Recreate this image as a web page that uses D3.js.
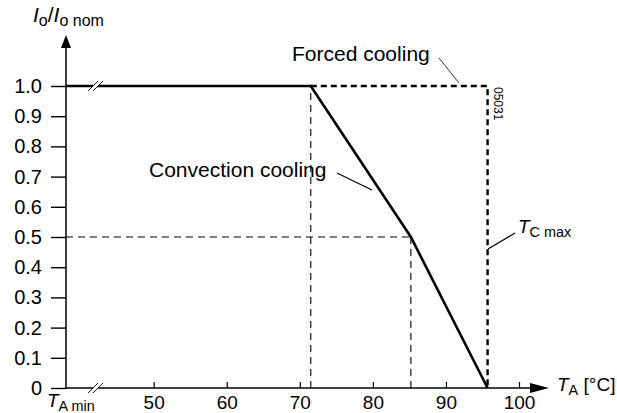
<!DOCTYPE html>
<html>
<head>
<meta charset="utf-8">
<script src="https://cdn.jsdelivr.net/npm/d3@7"></script>
<style>
  body { margin: 0; background: #fff; }
  text { font-family: "Liberation Sans", Arial, sans-serif; fill: #000; }
</style>
</head>
<body>
<div id="chart"></div>
<script>
// derating curve values (T_A in degC, Io/Io nom)
var convT = [38, 71.5, 85.2, 95.7];
var convI = [1.0, 1.0, 0.5, 0];
var forcedT = [71.5, 95.7, 95.7];
var forcedI = [1.0, 1.0, 0];
var yTicks = [0, 0.1, 0.2, 0.3, 0.4, 0.5, 0.6, 0.7, 0.8, 0.9, 1.0];
var xTicks = [50, 60, 70, 80, 90, 100];

var chart_width = 617;
var chart_height = 413;

var svg = d3.select('#chart')
  .append('svg')
  .attr('width', chart_width)
  .attr('height', chart_height);

svg.append('rect').attr('width', chart_width).attr('height', chart_height).attr('fill', '#fff');

// scales
var x_scale = d3.scaleLinear().domain([38, 100]).range([66, 519]);
var y_scale = d3.scaleLinear().domain([0, 1]).range([388, 86]);

var x0 = x_scale(38), y0 = y_scale(0);

// y axis
var y_axis = d3.axisLeft(y_scale)
  .tickValues(yTicks)
  .tickSize(15)
  .tickSizeOuter(0)
  .tickPadding(9)
  .tickFormat(function(d) { return d === 0 ? '0' : d.toFixed(1); });

var gy = svg.append('g')
  .attr('transform', 'translate(' + x0 + ',0)')
  .call(y_axis);
gy.select('.domain').remove();
gy.selectAll('line').attr('stroke', '#000').attr('stroke-width', 1.4);
gy.selectAll('text').style('font-size', '20px').style('font-family', '"Liberation Sans", Arial, sans-serif');

// x axis
var x_axis = d3.axisBottom(x_scale)
  .tickValues(xTicks)
  .tickSize(-6)
  .tickSizeOuter(0)
  .tickPadding(8);

var gx = svg.append('g')
  .attr('transform', 'translate(0,' + y0 + ')')
  .call(x_axis);
gx.select('.domain').remove();
gx.selectAll('line').attr('stroke', '#000').attr('stroke-width', 1.2);
gx.selectAll('text').style('font-size', '19px').style('font-family', '"Liberation Sans", Arial, sans-serif');

// axis lines with arrows
svg.append('line').attr('x1', x0).attr('y1', y0 + 0.7).attr('x2', x0).attr('y2', 46)
  .attr('stroke', '#000').attr('stroke-width', 1.5);
svg.append('path').attr('d', 'M' + x0 + ',35 L' + (x0 - 5) + ',48 L' + (x0 + 5) + ',48 Z').attr('fill', '#000');

svg.append('line').attr('x1', x0 - 0.7).attr('y1', y0).attr('x2', 532).attr('y2', y0)
  .attr('stroke', '#000').attr('stroke-width', 1.5);
svg.append('path').attr('d', 'M549,' + y0 + ' L530,' + (y0 - 5) + ' L530,' + (y0 + 5) + ' Z').attr('fill', '#000');

// thin dashed guides
var guides = [
  [[convT[1], 0], [convT[1], convI[1]]],
  [[convT[2], 0], [convT[2], convI[2]]],
  [[38, convI[2]], [convT[2], convI[2]]]
];
var line = d3.line()
  .x(function(d) { return x_scale(d[0]); })
  .y(function(d) { return y_scale(d[1]); });

svg.selectAll('.guide')
  .data(guides)
  .enter()
  .append('path')
  .attr('class', 'guide')
  .attr('d', line)
  .attr('fill', 'none')
  .attr('stroke', '#000')
  .attr('stroke-width', 1.1)
  .attr('stroke-dasharray', '7,5');

// forced cooling (thick dashed)
svg.append('path')
  .datum(forcedT.map(function(t, i) { return [t, forcedI[i]]; }))
  .attr('d', line)
  .attr('fill', 'none')
  .attr('stroke', '#000')
  .attr('stroke-width', 2.4)
  .attr('stroke-dasharray', '6,4');

// convection cooling
svg.append('path')
  .datum(convT.map(function(t, i) { return [t, convI[i]]; }))
  .attr('d', line)
  .attr('fill', 'none')
  .attr('stroke', '#000')
  .attr('stroke-width', 2.6)
  .attr('stroke-linejoin', 'miter');

// break marks on the 1.0 line and on the x axis
function breakMark(cx, cy) {
  var g = svg.append('g');
  g.append('path')
    .attr('d', 'M' + (cx - 9) + ',' + (cy + 5) + ' L' + (cx + 1) + ',' + (cy - 5) + ' L' + (cx + 6) + ',' + (cy - 5) + ' L' + (cx - 4) + ',' + (cy + 5) + ' Z')
    .attr('fill', '#fff');
  g.append('line').attr('x1', cx - 9).attr('y1', cy + 5).attr('x2', cx + 1).attr('y2', cy - 5)
    .attr('stroke', '#000').attr('stroke-width', 0.9);
  g.append('line').attr('x1', cx - 4).attr('y1', cy + 5).attr('x2', cx + 6).attr('y2', cy - 5)
    .attr('stroke', '#000').attr('stroke-width', 0.9);
}
breakMark(97, y_scale(1));
breakMark(97, y0);

// labels
function subText(x, y, main, sub, rest, size) {
  var t = svg.append('text').attr('x', x).attr('y', y).style('font-size', size + 'px');
  t.append('tspan').style('font-style', 'italic').text(main);
  t.append('tspan').attr('dy', 4).style('font-size', (size * 0.76) + 'px').text(sub);
  if (rest) t.append('tspan').attr('dy', -4).text(rest);
  return t;
}

// title
var title = svg.append('text').attr('x', 33).attr('y', 22).style('font-size', '21px');
title.append('tspan').style('font-style', 'italic').text('I');
title.append('tspan').attr('dy', 4).style('font-size', '16px').text('o');
title.append('tspan').attr('dy', -4).text('/');
title.append('tspan').style('font-style', 'italic').text('I');
title.append('tspan').attr('dy', 4).style('font-size', '16px').text('o nom');

subText(557, 391, 'T', 'A', ' [°C]', 19);
subText(47, 407, 'T', 'A min', null, 19);
subText(518, 233, 'T', 'C max', null, 19);

svg.append('text').attr('x', 292).attr('y', 61).style('font-size', '21px').text('Forced cooling');
svg.append('text').attr('x', 149).attr('y', 177).style('font-size', '21px').text('Convection cooling');

svg.append('text')
  .attr('transform', 'translate(494,87) rotate(90)')
  .style('font-size', '12px')
  .text('05031');

// leader lines
var leaders = [
  [439, 58, 459, 83, 0.8],
  [337, 173, 372, 190, 1.3],
  [488, 249, 515, 233, 1.3]
];
svg.selectAll('.leader')
  .data(leaders)
  .enter()
  .append('line')
  .attr('class', 'leader')
  .attr('x1', function(d) { return d[0]; })
  .attr('y1', function(d) { return d[1]; })
  .attr('x2', function(d) { return d[2]; })
  .attr('y2', function(d) { return d[3]; })
  .attr('stroke', '#000')
  .attr('stroke-width', function(d) { return d[4]; });
</script>
</body>
</html>
